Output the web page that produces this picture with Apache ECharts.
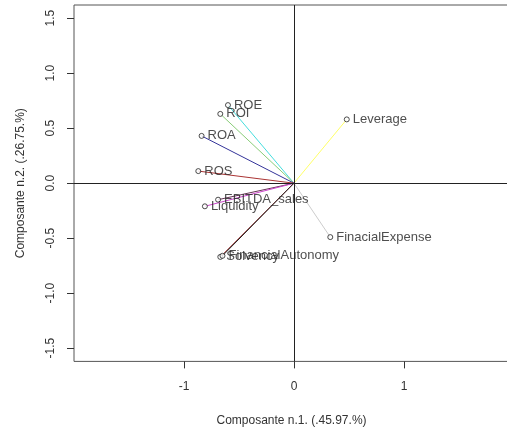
<!DOCTYPE html>
<html><head><meta charset="utf-8">
<script src="https://cdn.jsdelivr.net/npm/echarts@6/dist/echarts.min.js"></script>
<style>html,body{margin:0;padding:0;background:#fff}#c{width:507px;height:430px}</style>
</head><body><div id="c"></div>
<script>
const names = ['ROE','ROI','ROA','ROS','EBITDA_sales','Liquidity','Solvency','FinancialAutonomy','Leverage','FinacialExpense'];
const pc1 = [-0.60,-0.67,-0.84,-0.87,-0.69,-0.81,-0.67,-0.65,0.48,0.33];
const pc2 = [0.71,0.63,0.43,0.11,-0.15,-0.21,-0.67,-0.66,0.58,-0.49];
const lineColors = ['#44dddd','#88cc77','#333399','#aa3333','#663355','#cc44cc','#993333','#222222','#ffff66','#cccccc'];
const xTicks = [-1,0,1];
const yTicks = [-1.5,-1.0,-0.5,0.0,0.5,1.0,1.5];
const xTitle = 'Composante n.1. (.45.97.%)';
const yTitle = 'Composante n.2. (.26.75.%)';

const font = 'Liberation Sans, Arial, sans-serif';
const chart = echarts.init(document.getElementById('c'));
const series = names.map((n,i)=>({
  type:'line', name:n, data:[[0,0],[pc1[i],pc2[i]]], showSymbol:false, symbol:'none',
  lineStyle:{color:lineColors[i], width:1}, silent:true, z:3, animation:false
}));
series.push({
  type:'scatter', data:names.map((n,i)=>({name:n, value:[pc1[i],pc2[i]]})),
  symbol:'circle', symbolSize:5,
  itemStyle:{color:'#fff', borderColor:'#222', borderWidth:1},
  label:{show:true, position:'right', distance:3, formatter:p=>p.name, color:'#222', fontSize:13, fontFamily:font},
  z:5, animation:false,
  markLine:{silent:true, symbol:'none', label:{show:false}, animation:false,
    lineStyle:{color:'#222', type:'solid', width:1},
    data:[{xAxis:0},{yAxis:0}]}
});
chart.setOption({
  animation:false,
  grid:{left:74, right:-2, top:5, bottom:68.6, show:true, borderColor:'#555', borderWidth:1,
    containLabel:false, outerBoundsMode:'none'},
  xAxis:{type:'value', min:-2.0, max:1.955,
    name:xTitle, nameLocation:'middle', nameGap:53,
    nameTextStyle:{color:'#333', fontSize:12, fontFamily:font},
    axisLine:{show:false, onZero:false}, splitLine:{show:false},
    axisTick:{show:true, inside:false, customValues:xTicks, length:7, lineStyle:{color:'#333'}},
    axisLabel:{customValues:xTicks, color:'#333', fontSize:12, fontFamily:font, margin:19}},
  yAxis:{type:'value', min:-1.62, max:1.62,
    name:yTitle, nameLocation:'middle', nameGap:47,
    nameTextStyle:{color:'#333', fontSize:12, fontFamily:font},
    axisLine:{show:false, onZero:false}, splitLine:{show:false},
    axisTick:{show:true, inside:false, customValues:yTicks, length:7, lineStyle:{color:'#333'}},
    axisLabel:{customValues:yTicks, rotate:90, color:'#333', fontSize:12, fontFamily:font, margin:17,
      formatter:v=>v.toFixed(1)}},
  series
});
</script></body></html>
